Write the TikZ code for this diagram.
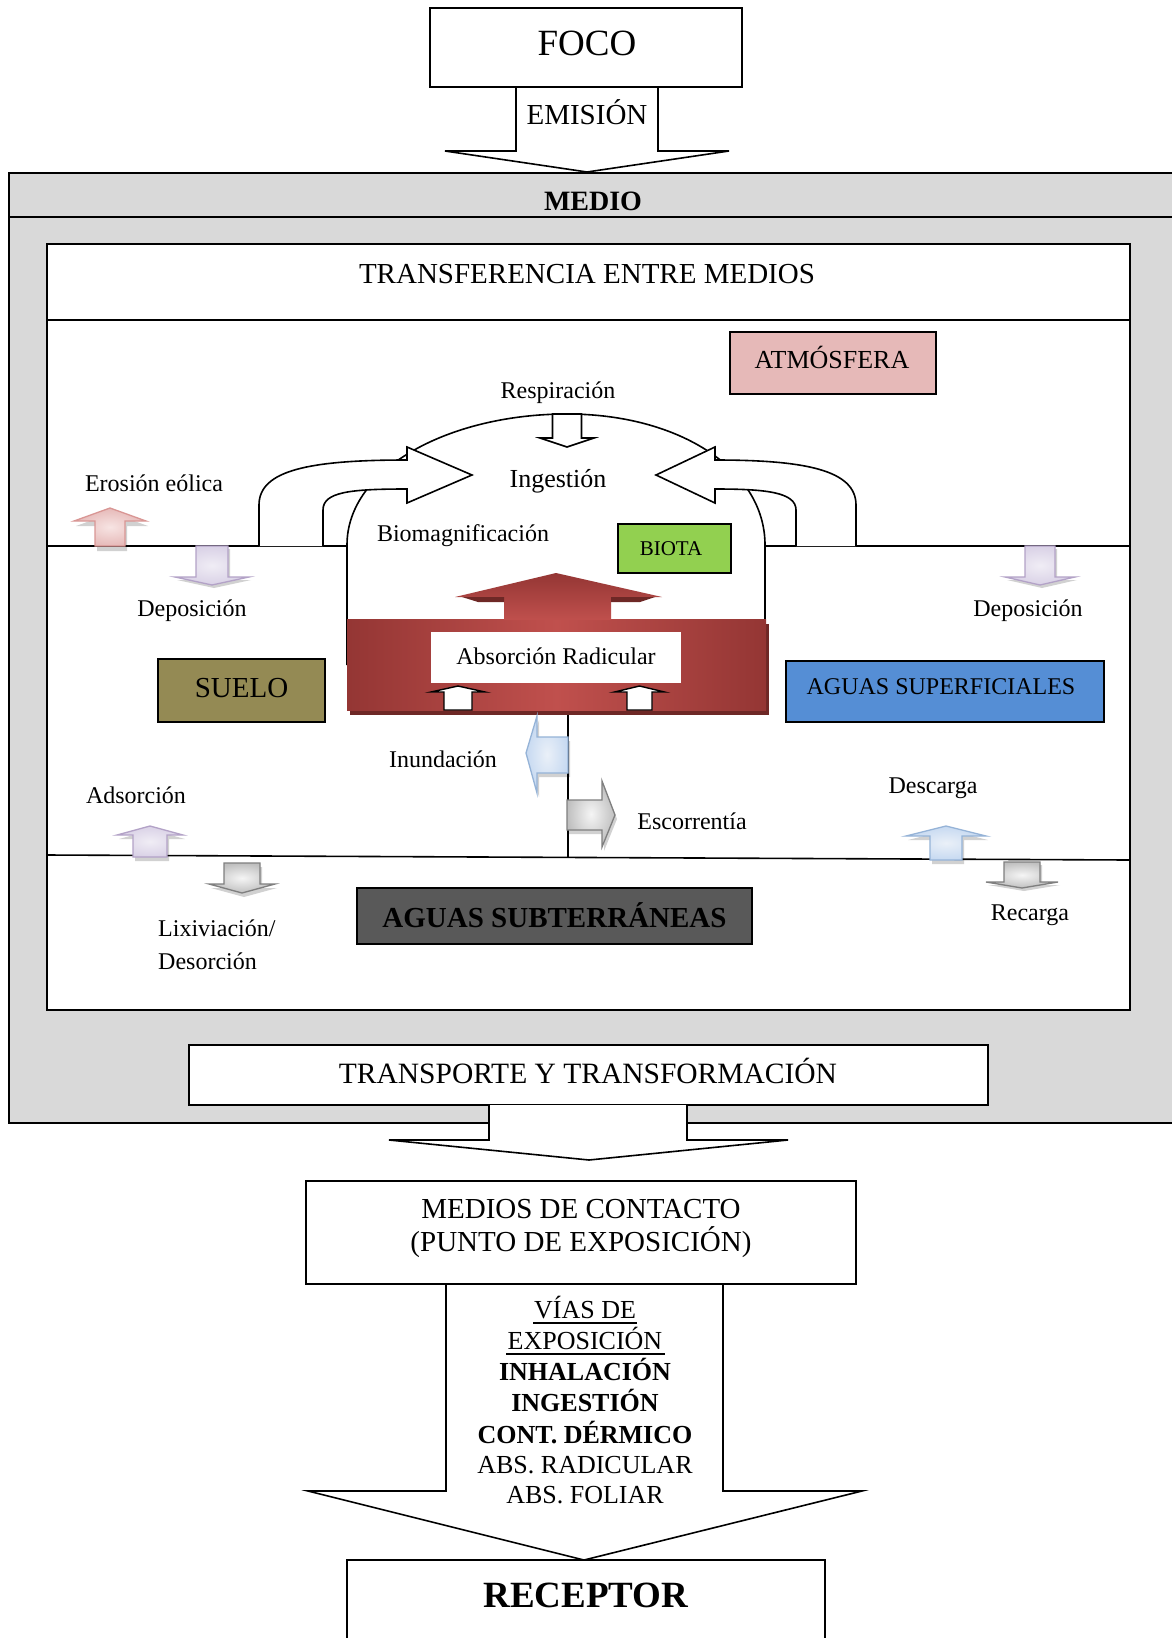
\documentclass[tikz,border=0pt]{standalone}
\usepackage{fontspec}
\setmainfont{Liberation Serif}
\newcommand\fsz[1]{\fontsize{#1pt}{#1pt}\selectfont}
% vertical block arrow: style, centre x, half shaft, half wing, y base, y shoulder, y tip
\newcommand\vArrow[7]{%
  \path[#1] ({#2-#3},#5) -- ({#2-#3},#6) -- ({#2-#4},#6) -- (#2,#7)
    -- ({#2+#4},#6) -- ({#2+#3},#6) -- ({#2+#3},#5) -- cycle;}
\definecolor{gbg}{HTML}{D9D9D9}
\definecolor{atm}{HTML}{E6B9B8}
\definecolor{biota}{HTML}{92D050}
\definecolor{suelo}{HTML}{948A54}
\definecolor{sup}{HTML}{558ED5}
\definecolor{sub}{HTML}{595959}
\definecolor{redA}{HTML}{943634}
\definecolor{redB}{HTML}{C0504D}
\definecolor{redS}{HTML}{6E2826}
\definecolor{pinkL}{HTML}{F7E4E3}
\definecolor{pinkM}{HTML}{E6B9B8}
\definecolor{pinkB}{HTML}{D99694}
\definecolor{lavL}{HTML}{F0EDF5}
\definecolor{lavM}{HTML}{D9D1E6}
\definecolor{lavB}{HTML}{B3A2C7}
\definecolor{greyL}{HTML}{F5F5F5}
\definecolor{greyM}{HTML}{BFBFBF}
\definecolor{greyB}{HTML}{7F7F7F}
\definecolor{bluL}{HTML}{EAF0F8}
\definecolor{bluM}{HTML}{C6D9F1}
\definecolor{bluB}{HTML}{95B3D7}
\tikzset{
  box/.style={draw=black, line width=1.8pt},
  thin box/.style={draw=black, line width=1.5pt},
  lbl/.style={anchor=base, inner sep=0pt},
  blockarrow/.style={draw=black, fill=white, line width=1.6pt, line join=miter},
  pinkarrow/.style={draw=pinkB, line width=1.3pt, inner color=pinkL, outer color=pinkM},
  lavarrow/.style={draw=lavB, line width=1.3pt, inner color=lavL, outer color=lavM},
  greyarrow/.style={draw=greyB, line width=1.3pt, inner color=greyL, outer color=greyM},
  bluarrow/.style={draw=bluB, line width=1.3pt, inner color=bluL, outer color=bluM},
  shadowarrow/.style={fill=black, opacity=0.18},
}
\begin{document}
\begin{tikzpicture}[x=1pt,y=-1pt]
\useasboundingbox (0,0) rectangle (1172,1638);

% ---------- environment frame ----------
\path[box, fill=gbg] (9,173) rectangle (1190,1123);
\draw[box] (9,217) -- (1190,217);
\node[lbl, font=\bfseries\fsz{28}] (medio) at (593,210) {MEDIO};

% emission arrow from the source
\path[blockarrow] (516,87) -- (516,151) -- (445,151) -- (587,172) -- (729,151) -- (658,151) -- (658,87);
\path[box, fill=white] (430,8) rectangle (742,87);
\node[lbl, font=\fsz{37}] (foco) at (587,55) {FOCO};
\node[lbl, font=\fsz{29}] (emision) at (587,124) {EMISIÓN};

% ---------- transfer between media ----------
\path[box, fill=white] (47,244) rectangle (1130,1010);
\draw[box] (47,320) -- (1130,320);
\node[lbl, font=\fsz{29}] (transf) at (587,283) {TRANSFERENCIA ENTRE MEDIOS};

% atmosphere
\path[thin box, fill=atm] (730,332) rectangle (936,394);
\node[lbl, font=\fsz{26}] (atm) at (832,368) {ATMÓSFERA};

% ground surface
\draw[line width=1.6pt] (47,546) -- (347,546);
\draw[line width=1.6pt] (765,546) -- (1130,546);
% soil / groundwater boundary
\draw[line width=1.6pt] (47,855) -- (1130,860);
\draw[line width=1.6pt] (568,708) -- (568,857);

% biota dome
\draw[line width=1.6pt] (347,665) -- (347,545) .. controls (347,468) and (450,414) .. (567,414)
  .. controls (680,414) and (765,470) .. (765,545) -- (765,623);

% respiration arrow
\vArrow{blockarrow}{567}{14.5}{27}{414}{438}{447}
\draw[white, line width=2pt] (554.5,416.5) -- (579.5,416.5);

% curved biomagnification arrows
\path[blockarrow] (259,546) -- (259,505) .. controls (259,470) and (310,460) .. (407,460)
  -- (407,447) -- (472,475) -- (407,503) -- (407,489)
  .. controls (350,489) and (323,492) .. (323,510) -- (323,546);
\path[blockarrow] (856,546) -- (856,505) .. controls (856,470) and (805,460) .. (715,460)
  -- (715,447) -- (656,475) -- (715,503) -- (715,489)
  .. controls (765,489) and (796,492) .. (796,510) -- (796,546);

\node[lbl, font=\fsz{24}] (resp) at (558,398) {Respiración};
\node[lbl, font=\fsz{26}] (ingest) at (558,487) {Ingestión};
\node[lbl, font=\fsz{24}] (biomag) at (463,541) {Biomagnificación};

% biota
\path[thin box, fill=biota] (618,524) rectangle (731,573);
\node[lbl, font=\fsz{21}] (biota) at (671,555) {BIOTA};

% root uptake block
\fill[redS] (350,624) rectangle (769,715);
\shade[left color=redA, right color=redA, middle color=redB] (347,619) rectangle (766,710);
\shade[top color=redA, bottom color=redB] (504,620) -- (504,597) -- (455,597) -- (556,573)
  -- (662,597) -- (611,597) -- (611,620) -- cycle;
\fill[redS] (462,597) -- (504,597) -- (504,602) -- (478,602) -- cycle;
\fill[redS] (611,597) -- (655,597) -- (640,602) -- (611,602) -- cycle;
\fill[white] (431,632) rectangle (681,683);
\node[lbl, font=\fsz{24}] (absrad) at (556,664) {Absorción Radicular};
\vArrow{blockarrow, line width=1.4pt}{458}{14}{27}{710}{692}{686}
\vArrow{blockarrow, line width=1.4pt}{639.5}{12.5}{25}{710}{692}{686}

% soil and surface water
\path[thin box, fill=suelo] (158,659) rectangle (325,722);
\node[lbl, font=\fsz{29}] (suelo) at (241.5,697) {SUELO};
\path[thin box, fill=sup] (786,661) rectangle (1104,722);
\node[lbl, font=\fsz{24}] (aguassup) at (941,694) {AGUAS SUPERFICIALES};

% groundwater
\path[thin box, fill=sub] (357,888) rectangle (752,944);
\node[lbl, font=\bfseries\fsz{29}] (aguassub) at (554.5,927) {AGUAS SUBTERRÁNEAS};

% ---------- small exchange arrows ----------
% wind erosion (up)
\begin{scope}[shift={(2,5)}]\vArrow{shadowarrow}{110}{15}{36}{546}{521}{508}\end{scope}
\vArrow{pinkarrow}{110}{15}{36}{546}{521}{508}
% deposition (down, left and right)
\begin{scope}[shift={(2,3)}]\vArrow{shadowarrow}{212}{16}{37}{546}{577}{585}\end{scope}
\vArrow{lavarrow}{212}{16}{37}{546}{577}{585}
\begin{scope}[shift={(2,3)}]\vArrow{shadowarrow}{1040}{15}{35}{546}{577}{585}\end{scope}
\vArrow{lavarrow}{1040}{15}{35}{546}{577}{585}
% adsorption (up)
\begin{scope}[shift={(2,4)}]\vArrow{shadowarrow}{150}{17}{33}{857}{835}{826}\end{scope}
\vArrow{lavarrow}{150}{17}{33}{857}{835}{826}
% leaching (down)
\begin{scope}[shift={(2,4)}]\vArrow{shadowarrow}{242}{18}{33}{863}{884}{893}\end{scope}
\vArrow{greyarrow}{242}{18}{33}{863}{884}{893}
% discharge (up)
\begin{scope}[shift={(2,4)}]\vArrow{shadowarrow}{946}{16}{40}{860}{836}{826}\end{scope}
\vArrow{bluarrow}{946}{16}{40}{860}{836}{826}
% recharge (down)
\begin{scope}[shift={(2,3)}]\vArrow{shadowarrow}{1022}{18}{36}{862}{882}{888}\end{scope}
\vArrow{greyarrow}{1022}{18}{36}{862}{882}{888}
% flooding (left)
\path[shadowarrow, shift={(2,4)}] (568,737) -- (537,737) -- (537,716) -- (526,753) -- (537,793) -- (537,773) -- (568,773) -- cycle;
\path[bluarrow] (568,737) -- (537,737) -- (537,716) -- (526,753) -- (537,793) -- (537,773) -- (568,773) -- cycle;
% runoff (right)
\path[shadowarrow, shift={(2,4)}] (567,800) -- (602,800) -- (602,781) -- (615,815) -- (602,847) -- (602,830) -- (567,830) -- cycle;
\path[greyarrow] (567,800) -- (602,800) -- (602,781) -- (615,815) -- (602,847) -- (602,830) -- (567,830) -- cycle;

% process labels
\node[lbl, font=\fsz{24}] (erosion) at (154,491) {Erosión eólica};
\node[lbl, font=\fsz{24}] (depL) at (192,616) {Deposición};
\node[lbl, font=\fsz{24}] (depR) at (1028,616) {Deposición};
\node[lbl, font=\fsz{24}] (inund) at (443,767) {Inundación};
\node[lbl, font=\fsz{24}] (adsor) at (136,803) {Adsorción};
\node[lbl, font=\fsz{24}] (escor) at (692,829) {Escorrentía};
\node[lbl, font=\fsz{24}] (descar) at (933,793) {Descarga};
\node[lbl, font=\fsz{24}] (recar) at (1030,920) {Recarga};
\node[lbl, anchor=base west, font=\fsz{24}] (lixiv) at (158,936) {Lixiviación/};
\node[lbl, anchor=base west, font=\fsz{24}] (desor) at (158,969) {Desorción};

% ---------- transport and exposure ----------
\path[box, fill=white] (189,1045) rectangle (988,1105);
\node[lbl, font=\fsz{29.5}] (transp) at (588,1083) {TRANSPORTE Y TRANSFORMACIÓN};
\path[blockarrow] (489,1105) -- (489,1140) -- (389,1140) -- (589,1160) -- (788,1140) -- (687,1140) -- (687,1105);

\path[blockarrow] (446,1284) -- (446,1491) -- (308,1491) -- (584,1560) -- (862,1491) -- (723,1491) -- (723,1284);
\path[box, fill=white] (306,1181) rectangle (856,1284);
\node[lbl, font=\fsz{29}] (contacto1) at (581,1218) {MEDIOS DE CONTACTO};
\node[lbl, font=\fsz{29}] (contacto2) at (581,1251) {(PUNTO DE EXPOSICIÓN)};

\node[lbl, font=\fsz{26}] (vias1) at (585,1318) {VÍAS DE};
\node[lbl, font=\fsz{26}] (vias2) at (585,1349) {EXPOSICIÓN};
\draw[line width=1.2pt] (533,1323) -- (637,1323);
\draw[line width=1.2pt] (506,1354) -- (665,1354);
\node[lbl, font=\bfseries\fsz{26}] (inhal) at (585,1380) {INHALACIÓN};
\node[lbl, font=\bfseries\fsz{26}] (ingv) at (585,1411) {INGESTIÓN};
\node[lbl, font=\bfseries\fsz{26}] (derm) at (585,1443) {CONT. DÉRMICO};
\node[lbl, font=\fsz{26}] (absr) at (585,1473) {ABS. RADICULAR};
\node[lbl, font=\fsz{26}] (absf) at (585,1503) {ABS. FOLIAR};

\path[box, fill=white] (347,1560) rectangle (825,1680);
\node[lbl, font=\bfseries\fsz{37}] (receptor) at (586,1607) {RECEPTOR};
\end{tikzpicture}
\end{document}
